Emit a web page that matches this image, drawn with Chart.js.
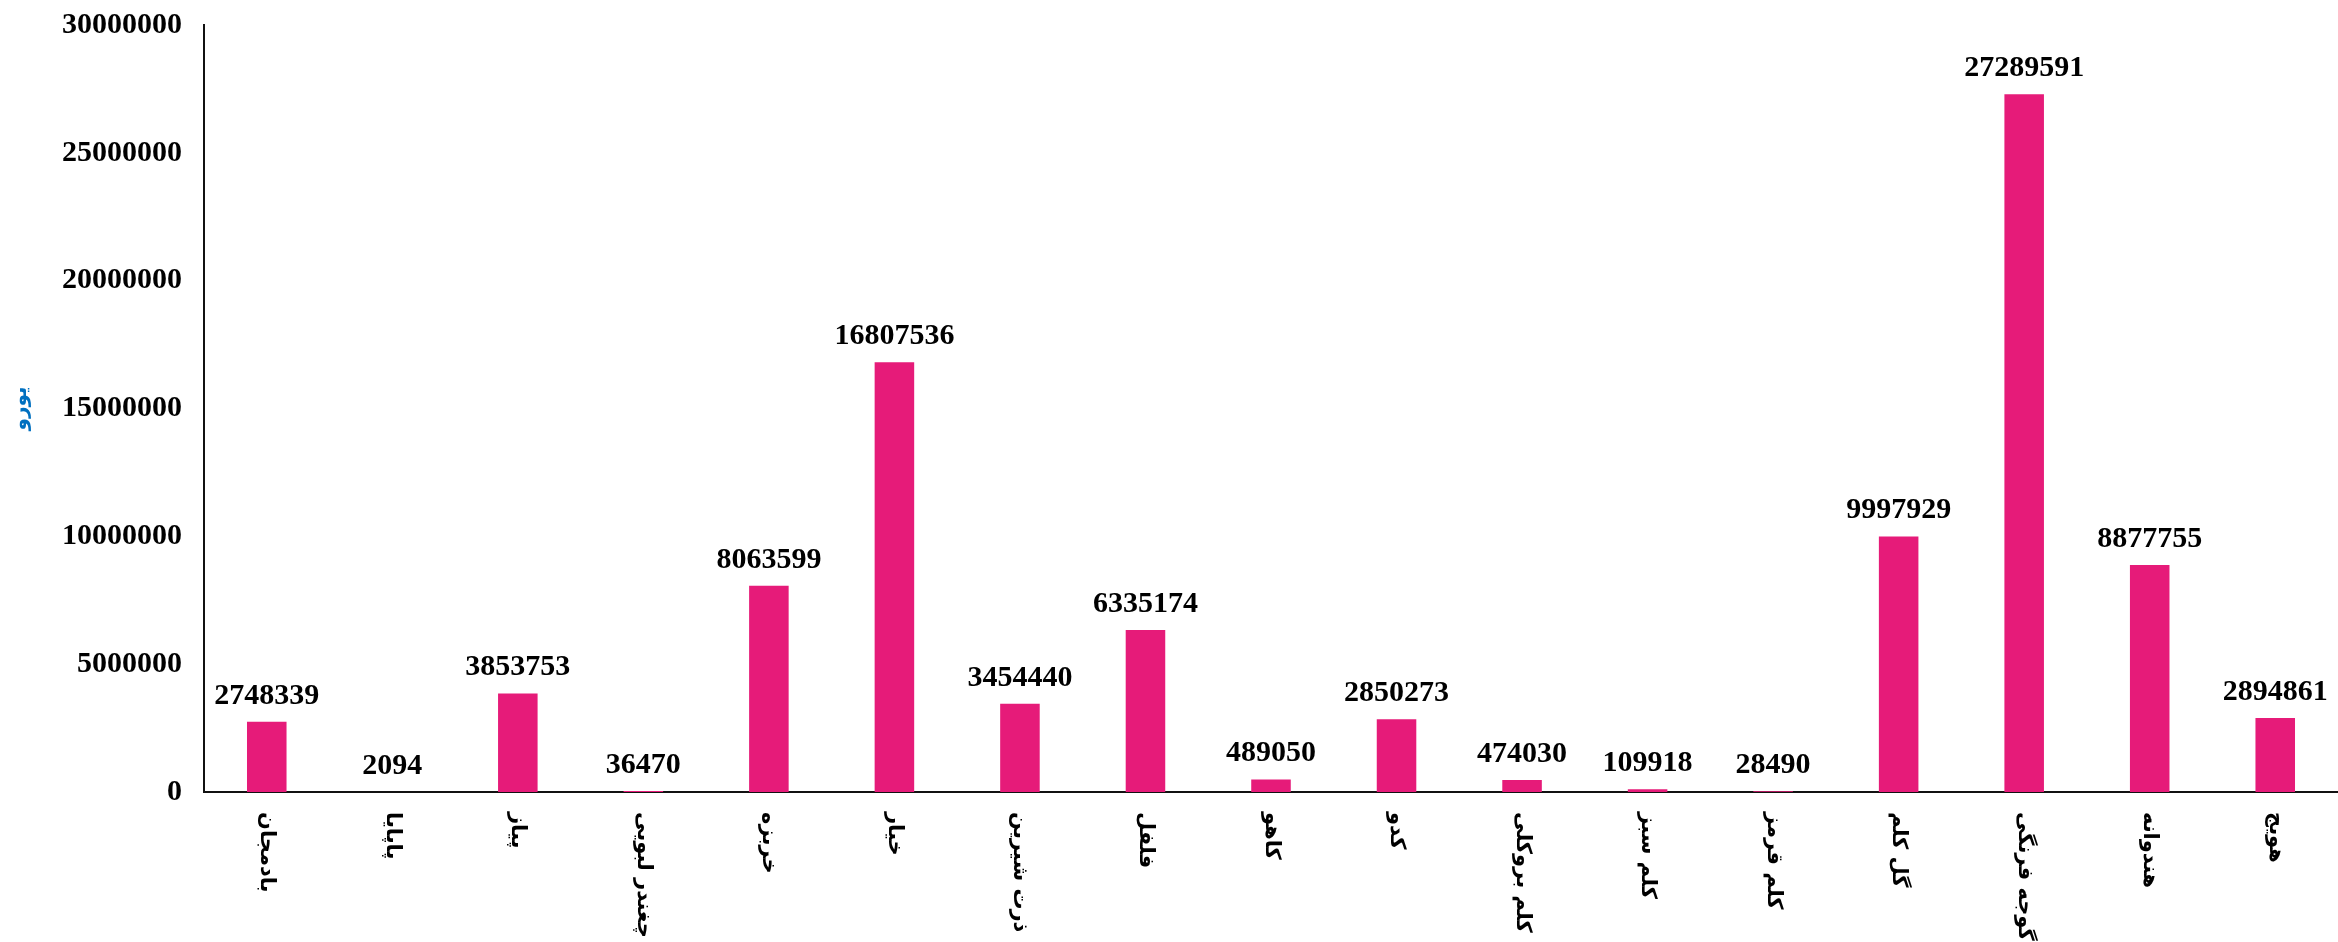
<!DOCTYPE html>
<html>
<head>
<meta charset="utf-8">
<script src="https://cdn.jsdelivr.net/npm/chart.js@4.4.0/dist/chart.umd.min.js"></script>
<style>
  body { margin: 0; background: #fff; }
  #wrap { width: 2338px; height: 942px; position: relative; }
</style>
</head>
<body>
<div id="wrap"><canvas id="salesChart"></canvas></div>
<script>
// DATA
const categories = [
  "بادمجان", "پاپایا", "پیاز", "چغندر لبویی", "خربزه", "خیار",
  "ذرت شیرین", "فلفل", "کاهو", "کدو", "کلم بروکلی", "کلم سبز",
  "کلم قرمز", "گل کلم", "گوجه فرنگی", "هندوانه", "هویج"
];
const values = [
  2748339, 2094, 3853753, 36470, 8063599, 16807536,
  3454440, 6335174, 489050, 2850273, 474030, 109918,
  28490, 9997929, 27289591, 8877755, 2894861
];
const yTicks = [0, 5000000, 10000000, 15000000, 20000000, 25000000, 30000000];
const yTitle = "یورو";

const barColor = "#E61B79";
const serifBold = "bold 30px 'Liberation Serif', 'Times New Roman', serif";

// X LABELS ROTATED CLOCKWISE (drawn by hand, chart.js only rotates the other way)
const rotatedLabels = {
  id: "rotated-labels",
  afterDraw(chart) {
    const { ctx, scales: { x } } = chart;
    ctx.save();
    ctx.font = "bold 21px 'DejaVu Sans', sans-serif";
    ctx.fillStyle = "#000";
    ctx.textAlign = "left";
    ctx.textBaseline = "middle";
    chart.data.labels.forEach((label, i) => {
      ctx.save();
      ctx.translate(x.getPixelForTick(i), x.top + 20);
      ctx.rotate(Math.PI / 2);
      ctx.fillText(label, 0, 0);
      ctx.restore();
    });
    ctx.restore();
  },
};

// VALUE LABELS ABOVE BARS
const valueLabels = {
  id: "value-labels",
  afterDatasetsDraw(chart) {
    const { ctx } = chart;
    const meta = chart.getDatasetMeta(0);
    ctx.save();
    ctx.font = serifBold;
    ctx.fillStyle = "#000";
    ctx.textAlign = "center";
    ctx.textBaseline = "alphabetic";
    meta.data.forEach((bar, i) => {
      ctx.fillText(String(chart.data.datasets[0].data[i]), bar.x, bar.y - 18);
    });
    ctx.restore();
  },
};

new Chart(document.getElementById("salesChart"), {
  type: "bar",
  data: {
    labels: categories,
    datasets: [
      {
        data: values,
        backgroundColor: barColor,
        borderWidth: 0,
        categoryPercentage: 1,
        barPercentage: 0.315,
      },
    ],
  },
  options: {
    responsive: true,
    maintainAspectRatio: false,
    animation: false,
    layout: { padding: { top: 25, right: 0, bottom: 0, left: 0 } },
    plugins: {
      legend: { display: false },
      tooltip: { enabled: false },
    },
    scales: {
      x: {
        grid: { display: false, drawTicks: false },
        border: { display: true, color: "#111", width: 2 },
        ticks: { display: false },
        afterFit: (scale) => {
          scale.height = 150;
          scale.paddingLeft = 0;
          scale.paddingRight = 0;
        },
      },
      y: {
        min: yTicks[0],
        max: yTicks[yTicks.length - 1],
        grid: { display: false, drawTicks: false },
        border: { display: true, color: "#111", width: 2 },
        afterBuildTicks: (scale) => {
          scale.ticks = yTicks.map((v) => ({ value: v }));
        },
        ticks: {
          padding: 22,
          color: "#000",
          font: { family: "'Liberation Serif', 'Times New Roman', serif", size: 30, weight: "bold" },
          callback: (value) => String(value),
        },
        title: {
          display: true,
          text: yTitle,
          color: "#0070C0",
          padding: { top: 9, bottom: 0 },
          font: { family: "'DejaVu Sans', sans-serif", size: 20, weight: "bold" },
        },
        afterFit: (scale) => {
          scale.width = 204;
          scale.paddingTop = 0;
          scale.paddingBottom = 0;
        },
      },
    },
  },
  plugins: [valueLabels, rotatedLabels],
});
</script>
</body>
</html>
